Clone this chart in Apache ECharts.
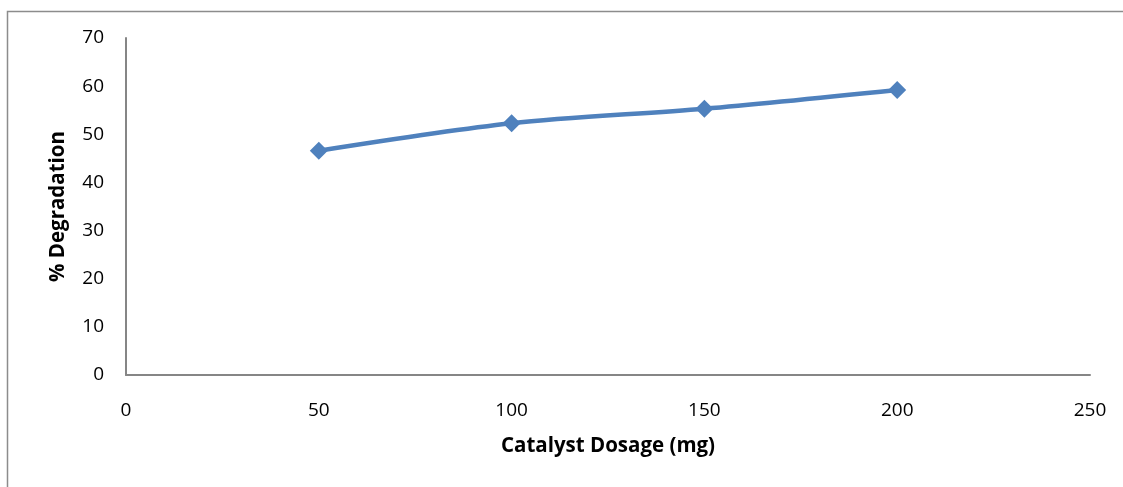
<!DOCTYPE html>
<html>
<head>
<meta charset="utf-8">
<script src="https://cdn.jsdelivr.net/npm/echarts@6/dist/echarts.min.js"></script>
<style>
  html, body { margin: 0; padding: 0; background: #ffffff; }
  #chart { width: 1123px; height: 487px; }
</style>
</head>
<body>
<div id="chart"></div>
<script>
// Catalyst dosage (mg) and measured % degradation
const dosage = [50, 100, 150, 200];
const degradation = [46.6, 52.3, 55.3, 59.2];
const xTicks = [0, 50, 100, 150, 200, 250];
const yTicks = [0, 10, 20, 30, 40, 50, 60, 70];

const points = dosage.map((d, i) => [d, degradation[i]]);
const font = '"Open Sans", "Liberation Sans", sans-serif';

const chart = echarts.init(document.getElementById('chart'), null, { renderer: 'canvas' });
chart.setOption({
  animation: false,
  backgroundColor: '#ffffff',
  graphic: [{
    type: 'rect',
    shape: { x: 7.5, y: 11.5, width: 1130, height: 500 },
    style: { fill: 'none', stroke: '#8c8c8c', lineWidth: 1.5 },
    silent: true
  }],
  grid: { left: 126, top: 38, right: 33, bottom: 112 },
  xAxis: {
    type: 'value',
    min: xTicks[0],
    max: xTicks[xTicks.length - 1],
    interval: xTicks[1] - xTicks[0],
    name: 'Catalyst Dosage (mg)',
    nameLocation: 'middle',
    nameGap: 61,
    nameTextStyle: { fontFamily: font, fontSize: 20.5, fontWeight: 'bold', color: '#000' },
    axisLine: { show: true, onZero: false, lineStyle: { color: '#868686', width: 2 } },
    axisTick: { show: false },
    splitLine: { show: false },
    axisLabel: { fontFamily: font, fontSize: 19, color: '#000', margin: 26 }
  },
  yAxis: {
    type: 'value',
    min: yTicks[0],
    max: yTicks[yTicks.length - 1],
    interval: yTicks[1] - yTicks[0],
    name: '% Degradation',
    nameLocation: 'middle',
    nameGap: 57,
    nameTextStyle: { fontFamily: font, fontSize: 20.5, fontWeight: 'bold', color: '#000' },
    axisLine: { show: true, lineStyle: { color: '#868686', width: 2 } },
    axisTick: { show: false },
    splitLine: { show: false },
    axisLabel: { fontFamily: font, fontSize: 19, color: '#000', margin: 22 }
  },
  series: [{
    type: 'line',
    data: points,
    smooth: 0.3,
    symbol: 'diamond',
    symbolSize: 18,
    lineStyle: { color: '#4F81BD', width: 4.5 },
    itemStyle: { color: '#4F81BD' }
  }]
});
</script>
</body>
</html>
